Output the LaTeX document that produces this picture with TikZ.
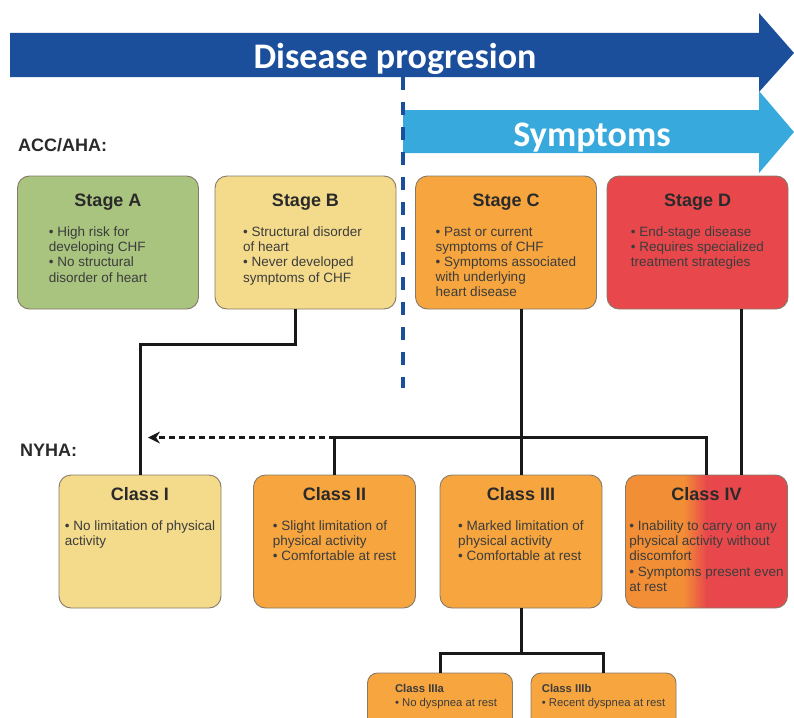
\documentclass[tikz,border=0pt]{standalone}
\usepackage{fontspec}
\setmainfont{Liberation Sans}
\newfontfamily\arrowfont{Carlito}
\usetikzlibrary{positioning, arrows.meta}

\definecolor{progBlue}{HTML}{1B4F9C}
\definecolor{sympBlue}{HTML}{37A9DC}
\definecolor{stGreen}{HTML}{A9C47F}
\definecolor{stYellow}{HTML}{F4DB8B}
\definecolor{stOrange}{HTML}{F6A53F}
\definecolor{stRed}{HTML}{E8484B}
\definecolor{clOrange}{HTML}{F28E35}
\definecolor{boxEdge}{HTML}{857A6A}
\definecolor{txtDark}{HTML}{2A2A2A}
\definecolor{txtGray}{HTML}{3C3C3C}

\pgfdeclarehorizontalshading{orangered}{100bp}{color(0bp)=(clOrange); color(43bp)=(clOrange); color(50bp)=(stRed); color(100bp)=(stRed)}

\tikzset{
  box/.style={draw=boxEdge, line width=0.9pt, rounded corners=12pt, inner sep=0pt},
  stage/.style={box, minimum width=181pt, minimum height=133pt},
  class/.style={box, minimum width=162pt, minimum height=133pt},
  subclass/.style={box, rounded corners=10pt, minimum width=145pt, minimum height=56pt},
  boxtitle/.style={anchor=base, inner sep=0pt, text=txtDark, font=\bfseries\fontsize{18}{20}\selectfont},
  boxtext/.style={anchor=north, inner sep=0pt, align=left, text=txtGray, font=\fontsize{13.5}{15.2}\selectfont},
  subtext/.style={anchor=north, inner sep=0pt, align=left, text=txtGray, font=\fontsize{11.3}{14}\selectfont},
  grouplabel/.style={anchor=west, inner sep=0pt, text=txtDark, font=\bfseries\fontsize{18}{20}\selectfont},
  arrowtext/.style={anchor=base, inner sep=0pt, text=white, font=\arrowfont\bfseries\fontsize{36}{40}\selectfont},
  conn/.style={line width=3pt, black!90}
}

\begin{document}
\begin{tikzpicture}[x=1pt, y=-1pt]
  \useasboundingbox (0,0) rectangle (794,717);
  \clip (0,0) rectangle (794,717);

  % progression arrows
  \fill[progBlue] (10,33) -- (759,33) -- (759,13) -- (794,53) -- (759,92) -- (759,77) -- (10,77) -- cycle;
  \fill[sympBlue] (403,110) -- (759,110) -- (759,91) -- (794,132) -- (759,173) -- (759,153) -- (403,153) -- cycle;
  \node[arrowtext] (prog) at (395,68) {Disease progresion};
  \node[arrowtext] (symp) at (592,146) {Symptoms};
  \draw[progBlue, line width=3.5pt, dash pattern=on 13pt off 12pt] (403,77) -- (403,388);

  \node[grouplabel] (acc) at (18,145) {ACC/AHA:};
  \node[grouplabel] (nyha) at (20,450) {NYHA:};

  % ACC/AHA stages
  \node[stage, fill=stGreen] (stA) at (108,242.5) {};
  \node[stage, fill=stYellow] (stB) at (305.5,242.5) {};
  \node[stage, fill=stOrange] (stC) at (506,242.5) {};
  \node[stage, fill=stRed] (stD) at (697.5,242.5) {};

  \node[boxtitle] (stAt) at ([yshift=-30.5pt]stA.north) {Stage A};
  \node[boxtitle] (stBt) at ([yshift=-30.5pt]stB.north) {Stage B};
  \node[boxtitle] (stCt) at ([yshift=-30.5pt]stC.north) {Stage C};
  \node[boxtitle] (stDt) at ([yshift=-30.5pt]stD.north) {Stage D};

  \node[boxtext] (stAb) at ([xshift=-10pt,yshift=-51pt]stA.north) {• High risk for\\developing CHF\\• No structural\\disorder of heart};
  \node[boxtext] (stBb) at ([xshift=-3pt,yshift=-51pt]stB.north) {• Structural disorder\\of heart\\• Never developed\\symptoms of CHF};
  \node[boxtext] (stCb) at ([yshift=-51pt]stC.north) {• Past or current\\symptoms of CHF\\• Symptoms associated\\with underlying\\heart disease};
  \node[boxtext] (stDb) at ([yshift=-51pt]stD.north) {• End-stage disease\\• Requires specialized\\treatment strategies};

  % NYHA classes
  \node[class, fill=stYellow] (clI) at (140,541.5) {};
  \node[class, fill=stOrange] (clII) at (334.5,541.5) {};
  \node[class, fill=stOrange] (clIII) at (521,541.5) {};
  \node[class, shade, shading=orangered] (clIV) at (706.5,541.5) {};

  \node[boxtitle] (clIt) at ([yshift=-25.5pt]clI.north) {Class I};
  \node[boxtitle] (clIIt) at ([yshift=-25.5pt]clII.north) {Class II};
  \node[boxtitle] (clIIIt) at ([yshift=-25.5pt]clIII.north) {Class III};
  \node[boxtitle] (clIVt) at ([yshift=-25.5pt]clIV.north) {Class IV};

  \node[boxtext] (clIb) at ([yshift=-46pt]clI.north) {• No limitation of physical\\activity};
  \node[boxtext] (clIIb) at ([yshift=-46pt]clII.north) {• Slight limitation of\\physical activity\\• Comfortable at rest};
  \node[boxtext] (clIIIb) at ([yshift=-46pt]clIII.north) {• Marked limitation of\\physical activity\\• Comfortable at rest};
  \node[boxtext] (clIVb) at ([yshift=-46pt]clIV.north) {• Inability to carry on any\\physical activity without\\discomfort\\• Symptoms present even\\at rest};

  \node[subclass, fill=stOrange] (clIIIa) at (440,701) {};
  \node[subclass, fill=stOrange] (clIIIbb) at (603.5,701) {};
  \node[subtext] at ([xshift=6pt,yshift=-11.8pt]clIIIa.north) {\textbf{Class IIIa}\\• No dyspnea at rest};
  \node[subtext] at ([yshift=-11.8pt]clIIIbb.north) {\textbf{Class IIIb}\\• Recent dyspnea at rest};

  % connectors
  \draw[conn] ([xshift=-10pt]stB.south) -- ++(0,35) -| (clI.north);
  \draw[conn] (stC.south -| clIII.north) -- (clIII.north);
  \draw[conn] (clII.north) -- ++(0,-37) coordinate (bus) -| (clIV.north);
  \draw[conn] ([xshift=34.5pt]clIV.north |- stD.south) -- ([xshift=34.5pt]clIV.north);
  \draw[conn, dash pattern=on 6pt off 4pt, -{Stealth[length=12pt, width=12pt]}] (bus) -- ([xshift=8pt]clI.north |- bus);
  \draw[conn] (clIII.south) -- ++(0,45) coordinate (fork);
  \draw[conn] (fork) -| (clIIIa.north);
  \draw[conn] (fork) -| (clIIIbb.north);
\end{tikzpicture}
\end{document}
